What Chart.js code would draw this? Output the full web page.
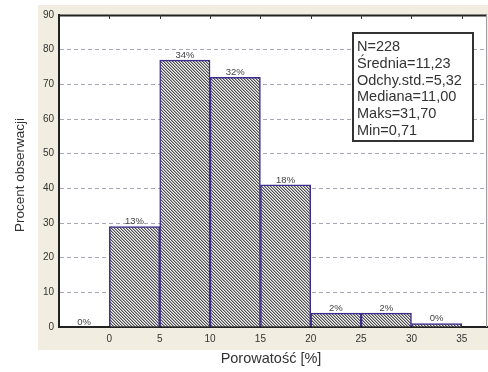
<!DOCTYPE html>
<html>
<head>
<meta charset="utf-8">
<script src="https://cdn.jsdelivr.net/npm/chart.js@4/dist/chart.umd.min.js"></script>
<style>
  html, body { margin: 0; padding: 0; background: #ffffff; }
  #wrap { width: 488px; height: 372px; }
</style>
</head>
<body>
<div id="wrap"><canvas id="c" width="488" height="372"></canvas></div>
<script>
// Histogram bins (lower edges, width 5) and counts per bin
const binStarts = [-5, 0, 5, 10, 15, 20, 25, 30];
const binWidth = 5;
const counts = [0, 29, 77, 72, 41, 4, 4, 1];
const xTickValues = [0, 5, 10, 15, 20, 25, 30, 35];
const yTickValues = [0, 10, 20, 30, 40, 50, 60, 70, 80, 90];
const statLines = ['N=228', 'Średnia=11,23', 'Odchy.std.=5,32', 'Mediana=11,00', 'Maks=31,70', 'Min=0,71'];
const totalN = 228;
const xTitle = 'Porowatość [%]';
const yTitle = 'Procent obserwacji';

const pctLabels = counts.map(c => Math.round(c / totalN * 100) + '%');
const points = binStarts.map((s, i) => ({ x: s + binWidth / 2, y: counts[i] }));

const FONT = '"Liberation Sans", Arial, sans-serif';

// Diagonal hatch fill for the bars
function makeHatch() {
  const p = document.createElement('canvas');
  p.width = 3; p.height = 3;
  const g = p.getContext('2d');
  const img = g.createImageData(3, 3);
  for (let y = 0; y < 3; y++) {
    for (let x = 0; x < 3; x++) {
      const k = ((x - y) % 3 + 3) % 3;
      const v = k === 0 ? 80 : (k === 1 ? 170 : 240);
      const o = (y * 3 + x) * 4;
      img.data[o] = v; img.data[o + 1] = v; img.data[o + 2] = v; img.data[o + 3] = 255;
    }
  }
  g.putImageData(img, 0, 0);
  return document.getElementById('c').getContext('2d').createPattern(p, 'repeat');
}

const framePlugin = {
  id: 'frame',
  beforeDraw(chart) {
    const { ctx, chartArea: a } = chart;
    ctx.save();
    ctx.fillStyle = '#f1ede0';
    ctx.fillRect(38, 5, 450, 345);
    ctx.fillStyle = '#ffffff';
    ctx.fillRect(a.left, a.top, a.right - a.left, a.bottom - a.top);
    ctx.restore();
  },
  afterDatasetsDraw(chart) {
    const { ctx, chartArea: a, scales } = chart;
    ctx.save();
    // top and right frame
    ctx.strokeStyle = '#222222';
    ctx.lineWidth = 2;
    ctx.beginPath();
    ctx.moveTo(a.left, a.top + 0.5);
    ctx.lineTo(a.right, a.top + 0.5);
    ctx.stroke();
    ctx.strokeStyle = '#a0a0a0';
    ctx.lineWidth = 1;
    ctx.beginPath();
    ctx.moveTo(a.right - 0.5, a.top);
    ctx.lineTo(a.right - 0.5, a.bottom);
    ctx.stroke();
    // small tick marks along the top edge
    ctx.strokeStyle = '#333333';
    xTickValues.forEach(v => {
      const px = Math.round(scales.x.getPixelForValue(v)) + 0.5;
      ctx.beginPath();
      ctx.moveTo(px, a.top);
      ctx.lineTo(px, a.top + 4);
      ctx.stroke();
    });
    // percentage labels above the bars
    const meta = chart.getDatasetMeta(0);
    ctx.fillStyle = '#444444';
    ctx.font = '9.5px ' + FONT;
    ctx.textAlign = 'center';
    ctx.textBaseline = 'bottom';
    meta.data.forEach((bar, i) => {
      ctx.fillText(pctLabels[i], bar.x, bar.y);
    });
    ctx.restore();
  },
  afterDraw(chart) {
    const { ctx } = chart;
    ctx.save();
    // statistics box
    const bx = 353, by = 33, bw = 120, bh = 108;
    ctx.fillStyle = '#ffffff';
    ctx.fillRect(bx, by, bw, bh);
    ctx.strokeStyle = '#333333';
    ctx.lineWidth = 2;
    ctx.strokeRect(bx, by, bw, bh);
    ctx.fillStyle = '#333333';
    ctx.font = '14.5px ' + FONT;
    ctx.textAlign = 'left';
    ctx.textBaseline = 'middle';
    statLines.forEach((t, i) => {
      ctx.fillText(t, bx + 4, by + 14 + i * 16.8);
    });
    // axis titles
    ctx.fillStyle = '#333333';
    ctx.font = '14.5px ' + FONT;
    ctx.textAlign = 'center';
    ctx.fillText(xTitle, 271, 359);
    ctx.font = '13.5px ' + FONT;
    ctx.translate(20, 175);
    ctx.rotate(-Math.PI / 2);
    ctx.fillText(yTitle, 0, 0);
    ctx.restore();
  }
};

new Chart(document.getElementById('c'), {
  type: 'bar',
  data: {
    datasets: [{
      data: points,
      backgroundColor: makeHatch(),
      borderColor: '#3c2d8c',
      borderWidth: 1.5,
      borderSkipped: 'bottom',
      barPercentage: 1,
      categoryPercentage: 1
    }]
  },
  options: {
    responsive: false,
    animation: false,
    devicePixelRatio: 1,
    layout: { padding: { left: 38, top: 15, right: 1, bottom: 22 } },
    plugins: { legend: { display: false }, tooltip: { enabled: false } },
    scales: {
      x: {
        type: 'linear',
        offset: false,
        min: -5,
        max: 37.5,
        afterBuildTicks: s => { s.ticks = xTickValues.map(v => ({ value: v })); },
        afterFit: s => { s.height = 23; },
        grid: { display: false, drawTicks: false, offset: false },
        border: { display: true, color: '#222222', width: 2 },
        ticks: { padding: 6, color: '#333333', font: { family: FONT, size: 10 }, maxRotation: 0, autoSkip: false }
      },
      y: {
        min: 0,
        max: 90,
        afterBuildTicks: s => { s.ticks = yTickValues.map(v => ({ value: v })); },
        afterFit: s => { s.width = 21; },
        grid: {
          drawTicks: false,
          color: c => (c.tick && (c.tick.value === 0 || c.tick.value === 90)) ? 'rgba(0,0,0,0)' : '#a8a8b4',
          lineWidth: 1
        },
        border: { display: true, color: '#222222', width: 2, dash: [4, 3] },
        ticks: { padding: 5, color: '#333333', font: { family: FONT, size: 10 } }
      }
    }
  },
  plugins: [framePlugin]
});
</script>
</body>
</html>
